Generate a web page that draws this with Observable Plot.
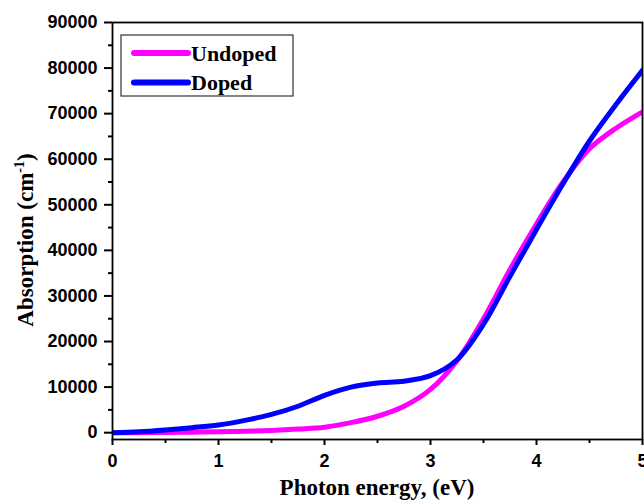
<!DOCTYPE html>
<html><head><meta charset="utf-8">
<script src="https://cdn.jsdelivr.net/npm/d3@7"></script>
<script src="https://cdn.jsdelivr.net/npm/@observablehq/plot@0.6"></script>
<style>body{margin:0;background:#fff}#chart svg{display:block}</style>
</head><body><div id="chart"></div>
<script>
const energy  = [0, 0.25, 0.5, 0.75, 1.0, 1.25, 1.5, 1.75, 2.0, 2.25, 2.5, 2.75, 3.0, 3.25, 3.5, 3.75, 4.0, 4.25, 4.5, 4.75, 5.0];
const undoped = [0, 0, 50, 100, 200, 300, 500, 800, 1200, 2200, 3600, 5800, 9500, 15800, 25000, 35800, 45800, 55000, 62300, 66800, 70400];
const doped   = [0, 200, 600, 1100, 1700, 2700, 4000, 5800, 8200, 10000, 10900, 11300, 12500, 16000, 23800, 34300, 44600, 54600, 64000, 72000, 79500];
const seriesNames  = ["Undoped", "Doped"];
const seriesColors = ["#ff00ff", "#0000ff"];
const xTicks = [0, 1, 2, 3, 4, 5];
const xMinor = [0.5, 1.5, 2.5, 3.5, 4.5];
const yTicks = [0, 10000, 20000, 30000, 40000, 50000, 60000, 70000, 80000, 90000];
const yMinor = [5000, 15000, 25000, 35000, 45000, 55000, 65000, 75000, 85000];
const xTitle = "Photon energy, (eV)";

const data = [];
energy.forEach((e, i) => {
  data.push({x: e, y: undoped[i], s: seriesNames[0]});
  data.push({x: e, y: doped[i], s: seriesNames[1]});
});

const chart = Plot.plot({
  width: 644, height: 501,
  marginLeft: 112, marginRight: 2, marginTop: 22, marginBottom: 62,
  style: {fontFamily: "'Liberation Sans', Arial, sans-serif", fontSize: "18px", fontWeight: "bold", background: "white", color: "black"},
  x: {domain: [0, 5], label: null},
  y: {domain: [-1500, 90000], label: null},
  color: {domain: seriesNames, range: seriesColors},
  marks: [
    Plot.line(data, {x: "x", y: "y", z: "s", stroke: "s", strokeWidth: 5, curve: "catmull-rom", clip: "frame"}),
    Plot.frame({stroke: "black", strokeWidth: 1.8}),
    Plot.axisX({ticks: xTicks, tickSize: 6, tickPadding: 9, strokeWidth: 2, tickFormat: d => String(d), fontSize: 18}),
    Plot.axisX({ticks: xMinor, tickSize: 4, strokeWidth: 2, tickFormat: () => ""}),
    Plot.axisY({ticks: yTicks, tickSize: 8, tickPadding: 7, strokeWidth: 2, tickFormat: d => String(d), fontSize: 18}),
    Plot.axisY({ticks: yMinor, tickSize: 4, strokeWidth: 2, tickFormat: () => ""})
  ]
});

const svg = d3.select(chart);
const serif = "'Liberation Serif', 'Times New Roman', serif";

// x axis title
svg.append("text")
  .attr("x", 377).attr("y", 495)
  .attr("text-anchor", "middle")
  .attr("font-family", serif).attr("font-size", 23).attr("font-weight", "bold")
  .attr("fill", "black")
  .text(xTitle);

// y axis title with superscript
const yt = svg.append("text")
  .attr("transform", "translate(33,240) rotate(-90)")
  .attr("text-anchor", "middle")
  .attr("font-family", serif).attr("font-size", 23).attr("font-weight", "bold")
  .attr("fill", "black");
yt.append("tspan").text("Absorption (cm");
yt.append("tspan").attr("font-size", 14).attr("dy", -9).text("-1");
yt.append("tspan").attr("dy", 9).text(")");

// legend
const lg = svg.append("g");
lg.append("rect").attr("x", 121).attr("y", 35).attr("width", 172).attr("height", 61)
  .attr("fill", "white").attr("stroke", "#333").attr("stroke-width", 1.2);
seriesNames.forEach((name, i) => {
  const y = 53 + i * 29.5;
  lg.append("line").attr("x1", 134).attr("x2", 188).attr("y1", y).attr("y2", y)
    .attr("stroke", seriesColors[i]).attr("stroke-width", 6).attr("stroke-linecap", "round");
  lg.append("text").attr("x", 191).attr("y", y + 7.5)
    .attr("text-anchor", "start")
    .attr("font-family", serif).attr("font-size", 22).attr("font-weight", "bold")
    .attr("fill", "black").text(name);
});

document.getElementById("chart").appendChild(chart);
</script>
</body></html>
